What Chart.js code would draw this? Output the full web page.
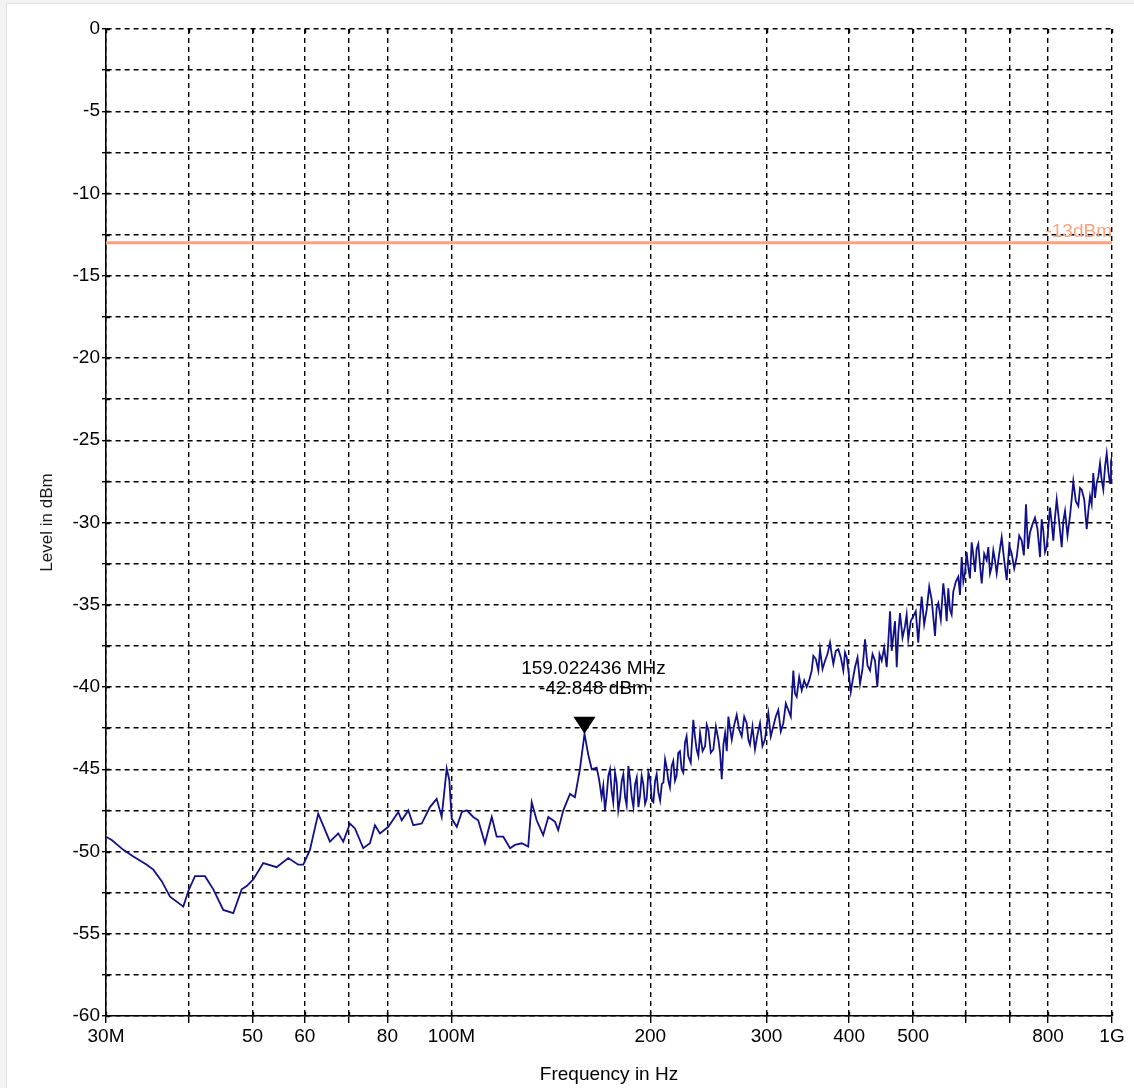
<!DOCTYPE html>
<html>
<head>
<meta charset="utf-8">
<title>Level vs Frequency</title>
<script src="https://cdn.jsdelivr.net/npm/chart.js@4/dist/chart.umd.min.js"></script>
<style>
  html, body { margin: 0; padding: 0; background: #ffffff; }
  #wrap { position: relative; width: 1134px; height: 1088px; }
</style>
</head>
<body>
<div id="wrap"><canvas id="spectrum" width="1134" height="1088"></canvas></div>
<script>
// Measured spectrum: frequency in MHz, level in dBm
const freqMHz = [
  30, 30.6, 31.87, 33.0, 34.58, 35.38, 36.43, 37.5, 39.28, 39.97,
  40.91, 42.36, 43.61, 45.15, 46.75, 48.14, 48.99, 50.12, 51.9, 54.38,
  56.63, 58.63, 59.68, 61.07, 62.86, 65.48, 67.4, 68.59, 70.21, 71.45,
  73.54, 75.28, 76.61, 77.96, 80.25, 83.1, 84.09, 86.05, 87.56, 90.16,
  92.8, 95.0, 96.67, 98.37, 99.27, 100.1, 101.9, 103.7, 105.5, 107.9,
  109.8, 112.4, 115.1, 117.1, 119.8, 122.7, 124.8, 127.8, 130.7, 132.3,
  134.6, 137.7, 140.2, 143.5, 145.1, 147.7, 151.2, 153.8, 156.5, 159.022436,
  161.1, 163.1, 165.9, 167.3, 168.8, 169.8, 170.8, 171.8, 172.8, 173.8,
  174.8, 175.8, 176.9, 177.9, 178.9, 180.0, 181.1, 182.1, 183.2, 184.2,
  185.3, 186.4, 187.5, 188.6, 189.7, 190.8, 191.9, 193.0, 194.1, 195.2,
  196.4, 197.5, 198.7, 199.9, 201.1, 202.2, 203.4, 204.5, 205.7, 207.0,
  208.2, 209.4, 210.6, 211.8, 213.0, 214.2, 215.5, 216.7, 218.0, 219.2,
  220.5, 221.8, 223.1, 224.4, 225.7, 227.0, 228.3, 230.3, 232.4, 233.7,
  235.1, 236.5, 237.9, 240.0, 242.1, 243.5, 244.9, 247.0, 249.2, 251.4,
  253.6, 255.1, 256.6, 258.1, 259.6, 261.1, 262.6, 264.1, 265.7, 268.0,
  270.3, 272.7, 275.1, 277.5, 279.9, 281.5, 283.1, 285.6, 288.1, 290.6,
  293.2, 295.7, 298.3, 300.0, 301.8, 304.4, 307.1, 309.8, 312.5, 315.2,
  318.0, 320.8, 323.6, 326.4, 329.3, 331.2, 333.2, 336.1, 339.1, 342.0,
  345.0, 348.0, 351.1, 353.1, 356.2, 359.3, 361.4, 364.6, 367.8, 371.0,
  374.2, 376.4, 378.6, 381.9, 385.2, 388.6, 392.0, 394.3, 396.7, 399.5,
  402.3, 405.3, 408.3, 411.9, 415.5, 419.1, 422.8, 426.5, 430.2, 434.0,
  437.8, 441.3, 444.7, 448.1, 452.0, 456.0, 458.6, 461.3, 464.0, 466.6,
  469.4, 472.2, 474.9, 477.6, 481.8, 486.0, 488.8, 491.6, 495.9, 500.2,
  504.6, 509.0, 512.0, 515.1, 519.6, 524.2, 528.8, 533.4, 536.5, 539.6,
  542.7, 545.8, 550.6, 555.4, 558.7, 562.0, 565.2, 568.5, 571.8, 575.1,
  580.1, 585.2, 588.7, 592.2, 595.6, 599.0, 602.4, 605.9, 609.5, 613.2,
  616.7, 620.3, 623.9, 627.5, 631.2, 635.0, 640.5, 646.1, 649.8, 653.6,
  657.4, 661.2, 665.1, 669.0, 674.9, 680.8, 686.8, 692.8, 698.9, 705.0,
  711.2, 717.4, 723.7, 730.0, 735.5, 741.0, 746.2, 751.4, 758.0, 764.6,
  771.3, 778.1, 782.6, 787.1, 791.8, 796.5, 801.1, 805.7, 810.3, 815.0,
  819.8, 824.7, 831.9, 839.2, 844.0, 848.9, 856.3, 863.8, 868.8, 873.8,
  881.5, 889.2, 894.5, 899.8, 907.7, 915.6, 920.9, 926.2, 931.5, 936.9,
  942.5, 948.1, 953.6, 959.1, 964.6, 970.2, 976.0, 981.7, 987.4, 993.1,
  996.5, 1000
];
const levelDbm = [
  -49.1, -49.3, -49.9, -50.3, -50.8, -51.1, -51.8, -52.75, -53.35, -52.4,
  -51.5, -51.5, -52.3, -53.55, -53.75, -52.3, -52.1, -51.7, -50.7, -50.95,
  -50.4, -50.8, -50.8, -49.9, -47.7, -49.4, -48.9, -49.4, -48.3, -48.6,
  -49.8, -49.5, -48.4, -48.9, -48.5, -47.6, -48.1, -47.5, -48.4, -48.3,
  -47.3, -46.8, -47.9, -44.96, -45.65, -48.0, -48.5, -47.6, -47.5, -47.9,
  -48.1, -49.5, -47.9, -49.1, -49.1, -49.8, -49.6, -49.5, -49.7, -47.0,
  -48.1, -49.0, -47.9, -48.2, -48.7, -47.5, -46.5, -46.7, -45.0, -42.848,
  -44.1, -45.0, -44.9, -45.6, -46.7, -46.0, -47.5, -46.6, -45.4, -45.0,
  -46.3, -47.0, -45.2, -45.8, -47.5, -46.8, -45.7, -45.3, -46.7, -47.2,
  -44.8, -45.6, -46.7, -47.3, -45.9, -45.5, -47.3, -46.6, -45.4, -45.9,
  -47.1, -46.8, -45.2, -45.6, -46.9, -47.0, -45.7, -45.3, -46.4, -46.9,
  -45.9, -45.8, -44.4, -44.9, -45.7, -46.1, -44.8, -44.5, -45.7, -45.4,
  -44.0, -43.9, -45.0, -45.2, -43.4, -43.0, -44.2, -44.6, -42.0, -43.0,
  -43.8, -44.2, -42.8, -43.9, -43.6, -42.3, -42.6, -44.0, -43.8, -42.4,
  -43.2, -44.0, -45.6, -43.5, -42.8, -43.9, -41.8, -42.5, -43.2, -42.3,
  -41.7, -42.6, -43.0, -41.8, -42.2, -43.2, -43.5, -42.4, -43.8, -42.9,
  -42.2, -43.6, -43.2, -42.4, -41.6, -43.0, -42.4, -41.8, -41.4, -42.7,
  -42.2, -41.0, -41.4, -41.8, -39.0, -40.4, -40.6, -39.4, -40.2, -39.6,
  -40.0, -39.6, -39.0, -38.1, -38.3, -39.0, -37.7, -38.9, -38.4, -38.0,
  -37.3, -38.0, -38.6, -37.8, -37.7, -38.2, -39.0, -37.9, -38.2, -39.2,
  -40.3, -39.5, -38.8, -38.2, -39.8, -38.9, -37.1, -38.7, -39.0, -38.0,
  -38.4, -40.0, -38.0, -38.4, -37.6, -38.8, -37.2, -35.4, -37.8, -36.9,
  -36.0, -38.8, -36.7, -35.5, -37.0, -36.3, -35.6, -37.1, -36.0, -35.7,
  -35.4, -37.3, -35.8, -34.5, -36.2, -35.3, -33.9, -34.7, -35.8, -36.9,
  -35.2, -34.9, -35.9, -33.7, -34.6, -36.0, -34.0, -35.3, -35.6, -34.2,
  -33.6, -33.3, -34.4, -32.1, -33.6, -33.1, -31.8, -32.7, -33.4, -31.2,
  -32.0, -33.0, -31.6, -31.3, -32.6, -33.7, -31.9, -32.3, -31.5, -33.1,
  -32.7, -31.7, -32.3, -33.1, -31.9, -30.9, -32.3, -33.5, -31.4, -31.9,
  -32.8, -32.1, -30.8, -31.1, -32.0, -28.9, -31.6, -30.6, -30.1, -29.7,
  -30.4, -32.1, -29.8, -30.5, -31.8, -31.5, -30.3, -29.1, -30.0, -31.1,
  -29.7, -28.6, -30.0, -31.5, -29.9, -29.3, -30.8, -29.6, -28.6, -27.5,
  -28.7, -29.0, -27.9, -28.0, -28.6, -30.4, -29.3, -28.4, -28.9, -27.0,
  -28.5, -27.6, -27.2, -26.4, -27.4, -28.0, -26.6, -25.8, -26.9, -27.6,
  -26.3, -26.0
];

// Axis ticks
const xTickValues = [30, 40, 50, 60, 70, 80, 100, 200, 300, 400, 500, 600, 700, 800, 1000];
const xTickLabels = ['30M', '', '50', '60', '', '80', '100M', '200', '300', '400', '500', '', '', '800', '1G'];
const yMin = -60, yMax = 0, yGridStep = 2.5, yLabelStep = 5;

// Limit line and peak marker
const limitLevel = -13;
const limitLabel = '-13dBm';
const markerFreq = 159.022436;
const markerLevel = -42.848;

const FONT = "'Liberation Sans', Arial, sans-serif";

const points = freqMHz.map((f, i) => ({ x: f, y: levelDbm[i] }));

const decorations = {
  id: 'decorations',
  beforeDraw(chart) {
    const { ctx, width, height } = chart;
    ctx.save();
    ctx.fillStyle = '#ffffff';
    ctx.fillRect(0, 0, width, height);
    ctx.fillStyle = '#f3f3f3';
    ctx.fillRect(0, 0, width, 3);
    ctx.fillRect(0, 0, 6, height);
    ctx.strokeStyle = '#e1e1e1';
    ctx.lineWidth = 1;
    ctx.beginPath();
    ctx.moveTo(6.5, 3.5); ctx.lineTo(width, 3.5);
    ctx.moveTo(6.5, 3.5); ctx.lineTo(6.5, height);
    ctx.stroke();
    ctx.restore();
  },
  beforeDatasetsDraw(chart) {
    const { ctx, chartArea: a, scales: { x, y } } = chart;
    ctx.save();
    // inner halves of the axis tick marks
    ctx.strokeStyle = '#000';
    ctx.lineWidth = 1.4;
    ctx.beginPath();
    y.ticks.forEach(t => {
      const py = Math.round(y.getPixelForValue(t.value)) + 0.5;
      ctx.moveTo(a.left, py); ctx.lineTo(a.left + 4, py);
    });
    x.ticks.forEach(t => {
      const px = Math.round(x.getPixelForValue(t.value)) + 0.5;
      ctx.moveTo(px, a.bottom); ctx.lineTo(px, a.bottom - 4);
      ctx.moveTo(px, a.top); ctx.lineTo(px, a.top + 4);
    });
    ctx.stroke();
    // limit line
    const ly = y.getPixelForValue(limitLevel);
    ctx.strokeStyle = '#ffa27c';
    ctx.lineWidth = 3;
    ctx.beginPath();
    ctx.moveTo(a.left, ly); ctx.lineTo(a.right, ly);
    ctx.stroke();
    ctx.fillStyle = '#ffa27c';
    ctx.font = '19px ' + FONT;
    ctx.textAlign = 'right';
    ctx.textBaseline = 'alphabetic';
    ctx.fillText(limitLabel, a.right, ly - 6);
    ctx.restore();
  },
  afterDatasetsDraw(chart) {
    const { ctx, scales: { x, y } } = chart;
    const px = x.getPixelForValue(markerFreq);
    const py = y.getPixelForValue(markerLevel);
    ctx.save();
    ctx.fillStyle = '#000';
    ctx.beginPath();
    ctx.moveTo(px, py);
    ctx.lineTo(px - 11, py - 17);
    ctx.lineTo(px + 11, py - 17);
    ctx.closePath();
    ctx.fill();
    ctx.font = '19px ' + FONT;
    ctx.textAlign = 'center';
    ctx.textBaseline = 'middle';
    ctx.fillText(markerFreq.toFixed(6) + ' MHz', px + 9, py - 65);
    ctx.fillText(markerLevel.toFixed(3) + ' dBm', px + 9, py - 45);
    ctx.restore();
  }
};

new Chart(document.getElementById('spectrum'), {
  type: 'line',
  data: {
    datasets: [{
      data: points,
      borderColor: '#10108a',
      borderWidth: 1.8,
      pointRadius: 0,
      tension: 0,
      fill: false
    }]
  },
  options: {
    responsive: false,
    animation: false,
    layout: { padding: { top: 29, right: 22, left: 0, bottom: 0 } },
    plugins: { legend: { display: false }, tooltip: { enabled: false } },
    scales: {
      x: {
        type: 'logarithmic',
        min: 30,
        max: 1000,
        afterBuildTicks: scale => { scale.ticks = xTickValues.map(v => ({ value: v })); },
        afterFit: scale => { scale.height = 72; },
        ticks: {
          autoSkip: false,
          maxRotation: 0,
          padding: 2,
          color: '#000',
          font: { family: FONT, size: 19 },
          callback: v => xTickLabels[xTickValues.indexOf(v)] ?? ''
        },
        grid: { color: '#000', lineWidth: 1.4, drawTicks: true, tickLength: 7, tickColor: '#000' },
        border: { display: true, color: '#000', width: 1.6, dash: [5, 4] },
        title: { display: true, text: 'Frequency in Hz', color: '#000', font: { family: FONT, size: 19 }, padding: { top: 0, bottom: 2 } }
      },
      y: {
        type: 'linear',
        min: yMin,
        max: yMax,
        afterFit: scale => { scale.width = 106; },
        ticks: {
          stepSize: yGridStep,
          autoSkip: false,
          padding: 2,
          color: '#000',
          font: { family: FONT, size: 19 },
          callback: v => (Math.abs(v % yLabelStep) < 1e-9 ? String(v) : '')
        },
        grid: { color: '#000', lineWidth: 1.4, drawTicks: true, tickLength: 4, tickColor: '#000' },
        border: { display: true, color: '#000', width: 1.6, dash: [5, 4] },
        title: { display: true, text: 'Level in dBm', color: '#1a1a1a', font: { family: FONT, size: 17 }, padding: { top: 37, bottom: 0 } }
      }
    }
  },
  plugins: [decorations]
});
</script>
</body>
</html>
